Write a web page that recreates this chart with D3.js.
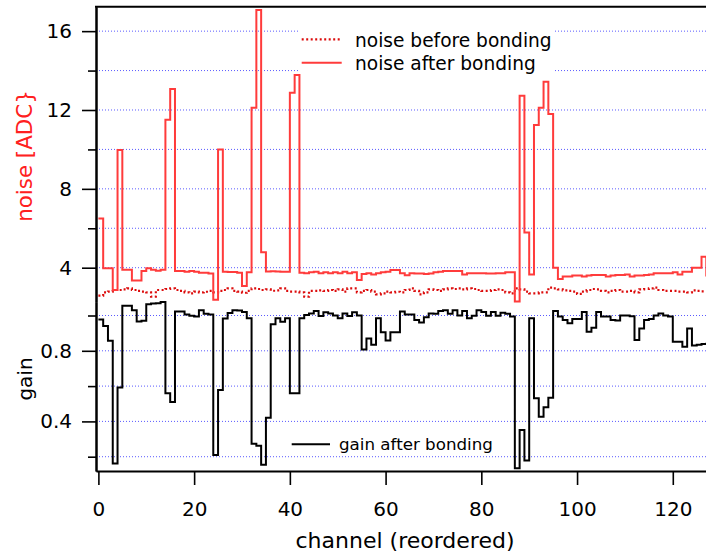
<!DOCTYPE html>
<html>
<head>
<meta charset="utf-8">
<script src="https://cdn.jsdelivr.net/npm/d3@7"></script>
<style>
  body { margin: 0; background: #fff; }
  text { font-family: "DejaVu Sans", sans-serif; }
</style>
</head>
<body>
<div id="container"></div>
<script>
/* CONSTANTS */
const width = 706, height = 555;

/* DATA (one value per channel 0..127) */
const noiseAfter = [6.5,3.97,3.97,2.87,9.97,3.9,3.9,3.35,3.35,3.83,3.97,3.9,3.85,3.9,11.5,13.06,
  3.83,3.83,3.8,3.83,3.8,3.75,3.75,3.7,2.37,10.0,3.8,3.78,3.78,3.75,3.07,3.77,
  12.12,17.07,4.78,3.81,3.82,3.81,3.8,3.8,12.88,13.77,3.74,3.72,3.77,3.8,3.72,3.77,
  3.72,3.77,3.72,3.8,3.72,3.77,3.38,3.68,3.72,3.65,3.72,3.77,3.8,3.88,3.88,3.72,
  3.62,3.72,3.7,3.7,3.68,3.7,3.77,3.8,3.83,3.83,3.83,3.83,3.66,3.72,3.72,3.72,
  3.72,3.7,3.7,3.72,3.72,3.77,3.77,2.28,12.72,5.78,3.66,11.24,12.11,13.43,11.8,4.0,
  3.43,3.55,3.55,3.6,3.6,3.55,3.6,3.63,3.63,3.63,3.55,3.6,3.63,3.63,3.66,3.55,
  3.6,3.6,3.63,3.66,3.72,3.72,3.72,3.72,3.77,3.66,3.8,3.8,4.0,4.0,4.56,3.6];

const noiseBefore = [2.58,2.75,2.79,2.87,2.87,2.9,2.95,2.87,2.82,2.79,2.75,2.53,2.87,2.87,2.92,2.95,
  2.87,2.82,2.75,2.7,2.79,2.75,2.78,2.82,2.75,2.82,2.87,2.95,2.82,2.79,2.73,2.82,
  2.95,2.92,2.87,2.9,2.83,2.85,2.95,2.82,2.79,2.79,2.75,2.53,2.82,2.82,2.85,2.82,
  2.87,2.82,2.9,2.79,2.95,2.95,2.75,2.82,2.87,2.79,2.65,2.7,2.79,2.75,2.78,2.75,
  2.87,2.95,2.82,2.65,2.75,2.9,2.87,2.82,2.9,2.95,2.92,2.95,2.9,2.95,2.92,2.87,
  2.82,2.82,2.87,2.9,2.87,2.75,2.7,2.95,2.9,2.79,2.7,2.7,2.75,2.75,2.99,2.95,
  2.9,2.85,2.82,2.79,2.67,2.79,2.87,2.92,2.9,2.82,2.75,2.82,2.87,2.79,2.79,2.82,
  2.75,2.9,2.92,2.95,2.99,2.87,2.82,2.82,2.82,2.79,2.79,2.75,2.85,2.82,2.8,2.8];

const gainAfter = [0.978,0.94,0.857,0.162,0.592,1.055,1.055,1.03,0.966,0.97,1.064,1.068,1.07,1.076,0.559,0.51,
  1.022,1.022,1.005,0.998,0.995,1.03,1.01,1.005,0.21,0.578,0.983,1.014,1.03,1.028,1.02,0.985,
  0.274,0.262,0.155,0.42,0.95,0.984,0.965,0.984,0.559,0.559,0.984,1.003,1.012,1.025,0.997,1.018,
  1.012,1.0,0.984,1.012,0.997,1.018,1.0,0.808,0.87,0.835,0.984,0.905,0.858,0.905,0.905,1.022,
  1.006,1.006,0.974,0.96,0.99,1.012,1.01,1.025,1.03,1.01,1.03,1.0,1.025,0.985,0.998,1.03,
  1.02,0.998,1.02,0.998,1.015,1.01,0.995,0.134,0.351,0.178,0.984,0.531,0.427,0.48,0.534,1.025,
  0.995,0.975,0.956,0.98,0.98,1.02,0.908,0.93,1.02,0.995,0.995,0.975,0.972,1.0,1.0,0.996,
  0.861,0.927,0.975,0.98,1.0,1.012,1.0,0.995,0.852,0.852,0.823,0.927,0.83,0.835,0.838,0.84];

const channelTicks = [0,20,40,60,80,100,120];
const noiseTicks = [4,8,12,16];
const noiseMinor = [6,10,14];
const gainTicks = [0.4,0.8];
const gainMinor = [0.2,0.6,1.0];

/* SCALES */
const xScale = d3.scaleLinear().domain([-0.5,127]).range([96,706.3]);
const yNoise = d3.scaleLinear().domain([2.26,17.24]).range([302,6.7]);
const yGain = d3.scaleLinear().domain([0.119,1.0765]).range([471,302]);

const svg = d3.select('#container').append('svg')
  .attr('width', width).attr('height', height);

// dotted blue grid
function grid(scale, vals) {
  svg.append('g').selectAll('line').data(vals).join('line')
    .attr('x1', 96).attr('x2', width)
    .attr('y1', d => scale(d)).attr('y2', d => scale(d))
    .attr('stroke', '#5a5aff').attr('stroke-width', 1)
    .attr('stroke-dasharray', '1,2');
}
grid(yNoise, noiseTicks.concat(noiseMinor));
grid(yGain, gainTicks.concat(gainMinor));

// legend box covers grid
svg.append('rect').attr('x', 298).attr('y', 22).attr('width', 256).attr('height', 52).attr('fill', '#fff');

// step lines
const steps = arr => arr.map((v,i)=>[i,v]).concat([[arr.length, arr[arr.length-1]]]);
const lineN = d3.line().x(d=>xScale(d[0])).y(d=>yNoise(d[1])).curve(d3.curveStepAfter);
const lineG = d3.line().x(d=>xScale(d[0])).y(d=>yGain(d[1])).curve(d3.curveStepAfter);

svg.append('path').attr('d', lineN(steps(noiseBefore)))
  .attr('fill','none').attr('stroke','#dc0c0c').attr('stroke-width',2.2).attr('stroke-dasharray','2,2.5');
svg.append('path').attr('d', lineN(steps(noiseAfter)))
  .attr('fill','none').attr('stroke','#ff3b3b').attr('stroke-width',2);
svg.append('path').attr('d', lineG(steps(gainAfter)))
  .attr('fill','none').attr('stroke','#000').attr('stroke-width',2);

// axes
function styleAxis(g) {
  g.selectAll('path.domain').attr('stroke','#000').attr('stroke-width',2);
  g.selectAll('.tick line').attr('stroke','#000').attr('stroke-width',1.6);
  g.selectAll('text').attr('font-size','20px').attr('fill','#000')
    .attr('font-family','"DejaVu Sans", sans-serif');
}
svg.append('g').attr('transform','translate(96,0)')
  .call(d3.axisLeft(yNoise).tickValues(noiseTicks).tickSize(14).tickPadding(10).tickSizeOuter(0).tickFormat(d3.format('d')))
  .call(styleAxis);
svg.append('g').attr('transform','translate(96,0)')
  .call(d3.axisLeft(yNoise).tickValues(noiseMinor).tickSize(8).tickSizeOuter(0).tickFormat(''))
  .call(styleAxis);
svg.append('g').attr('transform','translate(96,0)')
  .call(d3.axisLeft(yGain).tickValues(gainTicks).tickSize(14).tickPadding(10).tickSizeOuter(0).tickFormat(d3.format('.1f')))
  .call(styleAxis);
svg.append('g').attr('transform','translate(96,0)')
  .call(d3.axisLeft(yGain).tickValues(gainMinor).tickSize(8).tickSizeOuter(0).tickFormat(''))
  .call(styleAxis);
svg.append('g').attr('transform','translate(0,471)')
  .call(d3.axisBottom(xScale).tickValues(channelTicks).tickSize(14).tickPadding(17).tickSizeOuter(0))
  .call(styleAxis);

// top frame
svg.append('line').attr('x1',95).attr('x2',width).attr('y1',6.7).attr('y2',6.7)
  .attr('stroke','#000').attr('stroke-width',2);

// axis titles
svg.append('text').attr('transform','translate(31.5,156) rotate(-90)')
  .attr('text-anchor','middle').attr('font-size','21.4px').attr('fill','#ff2020').text('noise [ADC}');
svg.append('text').attr('transform','translate(31.5,379) rotate(-90)')
  .attr('text-anchor','middle').attr('font-size','20px').attr('fill','#000').text('gain');
svg.append('text').attr('x',405).attr('y',548).attr('text-anchor','middle')
  .attr('font-size','22px').attr('fill','#000').text('channel (reordered)');

// legends
svg.append('line').attr('x1',301.7).attr('x2',341.7).attr('y1',39.3).attr('y2',39.3)
  .attr('stroke','#dc0c0c').attr('stroke-width',2.2).attr('stroke-dasharray','2,2.5');
svg.append('text').attr('x',355).attr('y',46.5).attr('font-size','18.6px').text('noise before bonding');
svg.append('line').attr('x1',301.7).attr('x2',341.7).attr('y1',62.7).attr('y2',62.7)
  .attr('stroke','#ff3b3b').attr('stroke-width',2);
svg.append('text').attr('x',355).attr('y',70).attr('font-size','18.6px').text('noise after bonding');
svg.append('line').attr('x1',291.7).attr('x2',330).attr('y1',444.3).attr('y2',444.3)
  .attr('stroke','#000').attr('stroke-width',2);
svg.append('text').attr('x',339).attr('y',450).attr('font-size','16.7px').text('gain after bonding');
</script>
</body>
</html>
